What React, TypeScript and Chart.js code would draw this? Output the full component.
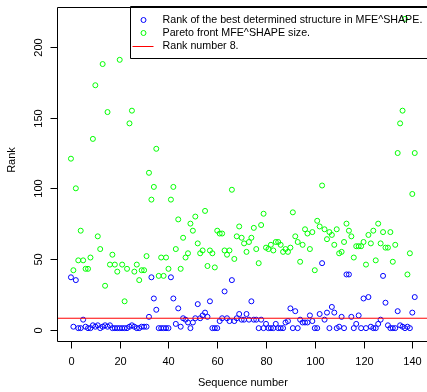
import React, { useEffect, useRef } from "react";
import { Chart, registerables } from "chart.js";

Chart.register(...registerables);

// Rank of the best determined structure (blue), indexed by sequence number 0..141
const bestRank: number[] = [
  37, 2, 35, 1, 1, 7, 2, 1, 1, 3, 2, 3, 1, 2, 3, 2, 3, 1, 1, 1,
  1, 1, 1, 1, 2, 3, 2, 1, 1, 2, 2, 2, 9, 37, 22, 14, 1, 1, 1, 1,
  1, 37, 22, 4, 15, 2, 8, 7, 5, 1, 5, 8, 18, 8, 10, 12, 9, 20, 1, 1,
  1, 6, 8, 27, 8, 6, 35, 6, 8, 11, 7, 7, 11, 7, 20, 7, 7, 1, 7, 1,
  4, 1, 1, 1, 4, 1, 1, 1, 5, 6, 15, 1, 13, 1, 7, 5, 5, 5, 10, 6,
  1, 1, 11, 47, 7, 12, 1, 16, 12, 1, 2, 9, 1, 39, 39, 9, 1, 4, 10, 1,
  22, 1, 23, 2, 1, 1, 4, 7, 38, 19, 3, 1, 1, 1, 13, 3, 2, 1, 2, 1,
  12, 23,
];

// Pareto front MFE^SHAPE size (green), indexed by sequence number 0..141
const paretoSize: number[] = [
  121, 42, 100, 49, 70, 49, 43, 43, 51, 135, 173, 66, 57, 188, 31, 154, 46, 53, 46, 41,
  191, 46, 20, 43, 146, 155, 41, 46, 35, 42, 42, 52, 111, 92, 101, 128, 38, 51, 38, 51,
  43, 92, 101, 57, 78, 43, 65, 51, 54, 75, 70, 80, 61, 54, 56, 84, 45, 56, 54, 44,
  70, 68, 68, 56, 53, 56, 99, 50, 66, 73, 65, 61, 55, 62, 65, 72, 57, 47, 74, 82,
  58, 57, 60, 56, 62, 62, 60, 55, 57, 55, 58, 83, 66, 62, 48, 60, 71, 68, 57, 69,
  42, 77, 73, 102, 71, 64, 69, 67, 60, 71, 54, 55, 62, 75, 70, 66, 51, 59, 59, 59,
  62, 46, 67, 61, 70, 49, 75, 61, 69, 58, 58, 69, 48, 60, 125, 146, 155, 220, 39, 54,
  96, 125,
];

const rankThreshold = 8;
const xTicks = [0, 20, 40, 60, 80, 100, 120, 140];
const yTicks = [0, 50, 100, 150, 200];
const legendLabels = [
  "Rank of the best determined structure in MFE^SHAPE.",
  "Pareto front MFE^SHAPE size.",
  "Rank number 8.",
];
const xTitle = "Sequence number";
const yTitle = "Rank";

const X_MIN = -5.64;
const X_MAX = 146.64;
const Y_MIN = -7.76;
const Y_MAX = 228.76;

const FONT = '11px "Liberation Sans", Arial, Helvetica, sans-serif';
const LEGEND_FONT = '10.7px "Liberation Sans", Arial, Helvetica, sans-serif';

const rAxesPlugin = {
  id: "rAxes",
  afterDraw(chart: any) {
    const { ctx, chartArea: a, scales } = chart;
    const xs = scales.x;
    const ys = scales.y;
    ctx.save();
    ctx.strokeStyle = "#000";
    ctx.lineWidth = 1;
    // box
    const L = Math.round(a.left) + 0.5;
    const T = Math.round(a.top) + 0.5;
    const B = Math.round(a.bottom) + 0.5;
    const R = Math.round(a.right) + 0.5;
    ctx.beginPath();
    ctx.rect(L, T, R - L, B - T);
    ctx.stroke();
    // x ticks
    ctx.fillStyle = "#000";
    ctx.font = FONT;
    ctx.textAlign = "center";
    ctx.textBaseline = "middle";
    for (const v of xTicks) {
      const px = Math.round(xs.getPixelForValue(v)) + 0.5;
      ctx.beginPath();
      ctx.moveTo(px, B);
      ctx.lineTo(px, B + 7);
      ctx.stroke();
      ctx.fillText(String(v), px, 362);
    }
    // y ticks
    for (const v of yTicks) {
      const py = Math.round(ys.getPixelForValue(v)) + 0.5;
      ctx.beginPath();
      ctx.moveTo(L, py);
      ctx.lineTo(L - 7, py);
      ctx.stroke();
      ctx.save();
      ctx.translate(38.5, py);
      ctx.rotate(-Math.PI / 2);
      ctx.fillText(String(v), 0, 0);
      ctx.restore();
    }
    // titles
    ctx.fillText(xTitle, (a.left + a.right) / 2, 383);
    ctx.save();
    ctx.translate(12, 160);
    ctx.rotate(-Math.PI / 2);
    ctx.fillText(yTitle, 0, 0);
    ctx.restore();

    // legend
    const lx = 130.5;
    const ly = 6.5;
    const lb = 58.5;
    ctx.beginPath();
    ctx.rect(lx, ly, chart.width + 10 - lx, lb - ly);
    ctx.stroke();
    const rows = [20, 33, 46];
    const symX = 143.5;
    ctx.lineWidth = 1;
    ctx.strokeStyle = "#0000ff";
    ctx.beginPath();
    ctx.arc(symX, rows[0], 2.5, 0, Math.PI * 2);
    ctx.stroke();
    ctx.strokeStyle = "#00ff00";
    ctx.beginPath();
    ctx.arc(symX, rows[1], 2.5, 0, Math.PI * 2);
    ctx.stroke();
    ctx.strokeStyle = "#ff0000";
    ctx.beginPath();
    ctx.moveTo(132.5, rows[2] + 0.5);
    ctx.lineTo(153.5, rows[2] + 0.5);
    ctx.stroke();
    ctx.font = LEGEND_FONT;
    ctx.textAlign = "left";
    ctx.fillStyle = "#000";
    legendLabels.forEach((t, i) => ctx.fillText(t, 162.5, rows[i] + 0.5));
    ctx.restore();
  },
};

export default function App() {
  const ref = useRef<HTMLCanvasElement | null>(null);
  useEffect(() => {
    if (!ref.current) return;
    const chart = new Chart(ref.current, {
      type: "scatter",
      data: {
        datasets: [
          {
            label: legendLabels[2],
            data: [
              { x: X_MIN, y: rankThreshold },
              { x: X_MAX, y: rankThreshold },
            ],
            showLine: true,
            borderColor: "#ff0000",
            borderWidth: 1,
            pointRadius: 0,
            order: 0,
          },
          {
            label: legendLabels[0],
            data: bestRank.map((v, i) => ({ x: i, y: v })),
            borderColor: "#0000ff",
            backgroundColor: "rgba(0,0,0,0)",
            borderWidth: 1,
            pointRadius: 2.5,
            pointHoverRadius: 2.5,
            order: 2,
          },
          {
            label: legendLabels[1],
            data: paretoSize.map((v, i) => ({ x: i, y: v })),
            borderColor: "#00ff00",
            backgroundColor: "rgba(0,0,0,0)",
            borderWidth: 1,
            pointRadius: 2.5,
            pointHoverRadius: 2.5,
            order: 1,
          },
        ],
      },
      options: {
        responsive: false,
        maintainAspectRatio: false,
        animation: false,
        devicePixelRatio: 1,
        layout: { padding: { left: 57.2, top: 6.5, right: 1.4, bottom: 51.5 } },
        scales: {
          x: { type: "linear", min: X_MIN, max: X_MAX, display: false },
          y: { type: "linear", min: Y_MIN, max: Y_MAX, display: false },
        },
        plugins: {
          legend: { display: false },
          tooltip: { enabled: false },
        },
        events: [],
      },
      plugins: [rAxesPlugin],
    });
    return () => chart.destroy();
  }, []);

  return (
    <div
      style={{
        position: "fixed",
        left: 0,
        top: 0,
        width: 427,
        height: 392,
        overflow: "hidden",
        background: "#fff",
      }}
    >
      <canvas
        ref={ref}
        width={432}
        height={392}
        style={{ display: "block", width: 432, height: 392 }}
      />
    </div>
  );
}
